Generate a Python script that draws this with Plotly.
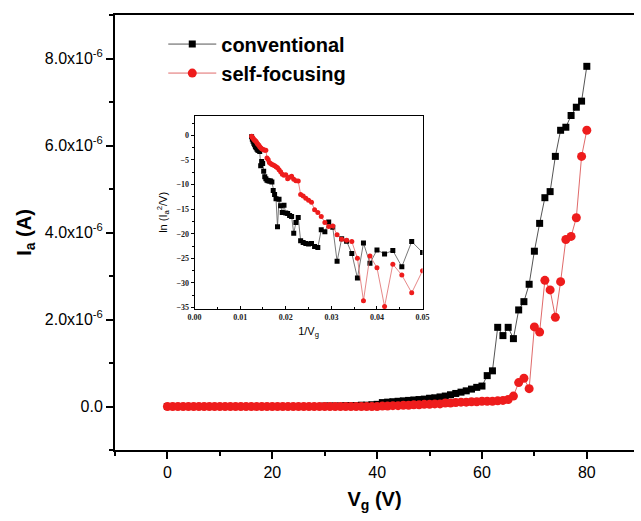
import plotly.graph_objects as go

# ---------------- main plot data ----------------
vg = [0, 1, 2, 3, 4, 5, 6, 7, 8, 9, 10, 11, 12, 13, 14, 15, 16, 17, 18, 19,
      20, 21, 22, 23, 24, 25, 26, 27, 28, 29, 30, 31, 32, 33, 34, 35, 36, 37, 38, 39,
      40, 41, 42, 43, 44, 45, 46, 47, 48, 49, 50, 51, 52, 53, 54, 55, 56, 57, 58, 59,
      60, 61, 62, 63, 64, 65, 66, 67, 68, 69, 70, 71, 72, 73, 74, 75, 76, 77, 78, 79, 80]

# anode current in micro-amps (x1e-6 A)
ia_conventional_uA = [
    0.0, 0.0, 0.0, 0.0, 0.0, 0.0, 0.0, 0.0, 0.0, 0.0,
    0.0, 0.0, 0.0, 0.0, 0.0, 0.0, 0.0, 0.0, 0.0, 0.0,
    0.0, 0.0, 0.0, 0.0, 0.0, 0.0, 0.0, 0.0, 0.0, 0.0,
    0.01, 0.01, 0.01, 0.01, 0.02, 0.02, 0.02, 0.03, 0.03, 0.04,
    0.05, 0.09, 0.10, 0.11, 0.12, 0.13, 0.14, 0.15, 0.16, 0.17,
    0.19, 0.20, 0.22, 0.24, 0.27, 0.30, 0.33, 0.36, 0.40, 0.44,
    0.47, 0.71, 0.82, 1.82, 1.63, 1.82, 1.56, 2.22, 2.41, 2.81,
    3.57, 4.21, 4.80, 4.94, 5.75, 6.35, 6.42, 6.69, 6.88, 7.02, 7.82]

ia_selffocusing_uA = [
    0.0, 0.0, 0.0, 0.0, 0.0, 0.0, 0.0, 0.0, 0.0, 0.0,
    0.0, 0.0, 0.0, 0.0, 0.0, 0.0, 0.0, 0.0, 0.0, 0.0,
    0.0, 0.0, 0.0, 0.0, 0.0, 0.0, 0.0, 0.0, 0.0, 0.0,
    0.0, 0.0, 0.0, 0.0, 0.0, 0.0, 0.0, 0.0, 0.0, 0.0,
    0.0, 0.01, 0.01, 0.02, 0.02, 0.03, 0.03, 0.04, 0.04, 0.05,
    0.05, 0.06, 0.06, 0.08, 0.08, 0.09, 0.10, 0.10, 0.11, 0.11,
    0.12, 0.12, 0.12, 0.13, 0.14, 0.16, 0.24, 0.55, 0.65, 0.41,
    1.83, 1.71, 2.90, 2.68, 2.05, 2.87, 3.84, 3.91, 4.34, 5.75, 6.35]

# ---------------- inset data (Fowler-Nordheim plot) ----------------
vg_inset = [80, 79, 78, 77, 76, 75, 74, 73, 72, 71, 70, 69, 68, 67, 66, 65, 64, 63, 62, 61,
            60, 59, 58, 57, 56, 55, 54, 53, 52, 51, 50, 49, 48, 47, 46, 45, 44, 43, 42, 41,
            40, 39, 38, 37, 36, 35, 34, 33, 32, 31, 30, 29, 28, 27, 26, 25, 24, 23, 22, 21, 20]

ln_conventional = [
    -0.3, -0.8, -1.2, -1.6, -1.9, -2.3, -2.5, -2.8, -3.0, -3.1,
    -3.3, -6.2, -5.3, -5.7, -7.3, -8.4, -8.8, -9.1, -9.2, -9.3,
    -9.3, -9.5, -11.2, -12.0, -12.9, -18.6, -13.0, -14.3, -15.7, -14.2,
    -15.8, -15.9, -16.3, -16.5, -19.9, -17.7, -16.7, -21.4, -21.8, -22.0,
    -22.1, -22.0, -22.6, -22.8, -19.2, -19.6, -17.6, -18.7, -25.6, -21.0,
    -21.5, -24.0, -29.0, -21.9, -26.0, -23.3, -24.1, -23.4, -26.7, -21.6, -23.8]

ln_selffocusing = [
    -0.2, -0.4, -0.6, -0.8, -1.0, -1.1, -1.3, -1.6, -1.8, -2.0,
    -2.3, -2.5, -2.7, -2.8, -2.9, -3.0, -3.0, -4.6, -4.9, -5.5,
    -5.7, -5.9, -6.0, -6.2, -6.4, -6.6, -7.0, -7.4, -7.9, -8.1,
    -8.0, -8.8, -8.5, -8.3, -8.9, -9.2, -9.3, -12.0, -12.3, -12.8,
    -13.2, -13.6, -15.1, -15.7, -16.5, -17.7, -18.5, -18.4, -20.2, -21.1,
    -21.3, -21.6, -25.0, -33.6, -24.5, -26.9, -34.8, -26.2, -28.4, -32.0, -27.5]

y_tickvals_uA = [0, 2, 4, 6, 8]
y_ticktext = ["0.0", "2.0x10<sup>-6</sup>", "4.0x10<sup>-6</sup>",
              "6.0x10<sup>-6</sup>", "8.0x10<sup>-6</sup>"]
x_tickvals = [0, 20, 40, 60, 80]
inset_x_ticks = [0.0, 0.01, 0.02, 0.03, 0.04, 0.05]
inset_y_ticks = [0, -5, -10, -15, -20, -25, -30, -35]

SANS = "Liberation Sans, Arial, sans-serif"
SERIF = "Liberation Serif, Times New Roman, serif"

ia_conv = [v * 1e-6 for v in ia_conventional_uA]
ia_sf = [v * 1e-6 for v in ia_selffocusing_uA]
inv_vg = [1.0 / v for v in vg_inset]

fig = go.Figure()

fig.add_trace(go.Scatter(
    x=vg, y=ia_conv, mode="lines+markers", name="conventional",
    line=dict(color="#555555", width=1),
    marker=dict(symbol="square", size=7, color="black"),
    xaxis="x", yaxis="y"))
fig.add_trace(go.Scatter(
    x=vg, y=ia_sf, mode="lines+markers", name="self-focusing",
    line=dict(color="#e06a6a", width=1),
    marker=dict(symbol="circle", size=9, color="#ee1c1c"),
    xaxis="x", yaxis="y"))

fig.add_trace(go.Scatter(
    x=inv_vg, y=ln_conventional, mode="lines+markers", showlegend=False,
    line=dict(color="#555555", width=0.8),
    marker=dict(symbol="square", size=5, color="black"),
    xaxis="x2", yaxis="y2"))
fig.add_trace(go.Scatter(
    x=inv_vg, y=ln_selffocusing, mode="lines+markers", showlegend=False,
    line=dict(color="#e06a6a", width=0.8),
    marker=dict(symbol="circle", size=5, color="#ee1c1c"),
    xaxis="x2", yaxis="y2"))

fig.update_layout(
    width=641, height=521,
    margin=dict(l=115, r=0, t=15, b=71),
    paper_bgcolor="white", plot_bgcolor="white",
    font=dict(family=SANS, color="black"),
    showlegend=True,
    legend=dict(x=0.093, y=0.978, xanchor="left", yanchor="top",
                bgcolor="rgba(0,0,0,0)", borderwidth=0,
                font=dict(family=SANS, size=20, color="black", weight="bold"),
                tracegroupgap=0, itemwidth=48),
    xaxis=dict(
        domain=[0, 1], range=[-10, 89],
        tickmode="array", tickvals=x_tickvals,
        ticks="outside", ticklen=7, tickwidth=2, tickcolor="black",
        showline=True, linewidth=2, linecolor="black", mirror=True,
        showgrid=False, zeroline=False,
        tickfont=dict(family=SANS, size=16, color="black"),
        minor=dict(dtick=10, tick0=0, ticks="outside", ticklen=4, tickwidth=2,
                   tickcolor="black", showgrid=False),
        title=dict(text="V<sub>g</sub> (V)", standoff=12,
                   font=dict(family=SANS, size=20, color="black", weight="bold")),
    ),
    yaxis=dict(
        domain=[0, 1], range=[-1e-6, 9e-6],
        tickmode="array", tickvals=[v * 1e-6 for v in y_tickvals_uA], ticktext=y_ticktext,
        ticks="outside", ticklen=7, tickwidth=2, tickcolor="black",
        showline=True, linewidth=2, linecolor="black", mirror=False,
        showgrid=False, zeroline=False,
        tickfont=dict(family=SANS, size=16, color="black"),
        minor=dict(dtick=1e-6, tick0=0, ticks="outside", ticklen=4, tickwidth=2,
                   tickcolor="black", showgrid=False),
        title=dict(text="I<sub>a</sub> (A)", standoff=8,
                   font=dict(family=SANS, size=20, color="black", weight="bold")),
    ),
    xaxis2=dict(
        domain=[0.1534, 0.5926], range=[0, 0.05], anchor="y2",
        tickmode="array", tickvals=inset_x_ticks, tickformat=".2f",
        ticks="inside", ticklen=3, tickwidth=1, tickcolor="black",
        showline=True, linewidth=1, linecolor="black", mirror=True,
        showgrid=False, zeroline=False,
        tickfont=dict(family=SERIF, size=8, color="#222222", weight="bold"),
        minor=dict(dtick=0.005, tick0=0, ticks="inside", ticklen=2, tickwidth=1,
                   tickcolor="black", showgrid=False),
        title=dict(text="1/V<sub>g</sub>", standoff=6,
                   font=dict(family=SANS, size=11, color="black")),
    ),
    yaxis2=dict(
        domain=[0.3241, 0.7685], range=[-35.3, 4], anchor="x2",
        tickmode="array", tickvals=inset_y_ticks,
        ticks="outside", ticklen=3, tickwidth=1, tickcolor="black",
        showline=True, linewidth=1, linecolor="black", mirror=True,
        showgrid=False, zeroline=False,
        tickfont=dict(family=SERIF, size=8, color="#222222", weight="bold"),
        minor=dict(dtick=2.5, tick0=0, ticks="outside", ticklen=2, tickwidth=1,
                   tickcolor="black", showgrid=False),
        title=dict(text="ln (I<sub>a</sub><sup>2</sup>/V)", standoff=6,
                   font=dict(family=SANS, size=11, color="black")),
    ),
)

fig.write_html("out.html")
